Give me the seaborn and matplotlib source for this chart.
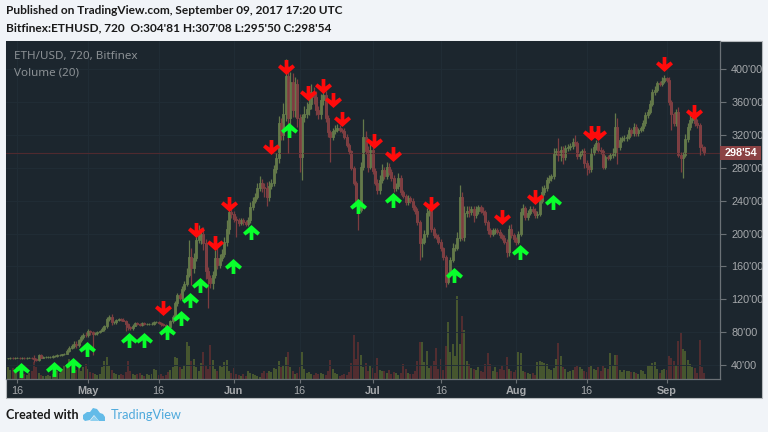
import pandas as pd
import numpy as np
import matplotlib.pyplot as plt
import seaborn as sns
from matplotlib.path import Path
from matplotlib.patches import Rectangle, Polygon

# 12h bars of ETH/USD, first bar is Apr 14 2017
closes = [
    48, 49, 48, 49, 49, 48, 49, 48, 49, 49,
    48, 47, 46, 52, 49, 50, 50, 50, 50, 51,
    51, 52, 52, 53, 54, 57, 61, 63, 66, 64,
    70, 74, 77, 76, 82, 80, 78, 79, 80, 82,
    84, 87, 96, 99, 92, 92, 95, 96, 95, 94,
    90, 86, 85, 88, 91, 90, 89, 91, 90, 90,
    90, 90, 92, 92, 91, 90, 89, 87, 86, 93,
    98, 115, 125, 122, 133, 139, 150, 172, 158, 170,
    192, 197, 200, 188, 155, 146, 140, 150, 170, 162,
    170, 175, 190, 205, 226, 224, 218, 216, 213, 216,
    214, 212, 216, 232, 240, 245, 255, 262, 257, 255,
    245, 258, 262, 278, 292, 335, 320, 345, 392, 340,
    385, 350, 382, 340, 293, 342, 345, 352, 358, 372,
    366, 350, 345, 362, 368, 340, 323, 318, 325, 326,
    328, 326, 325, 318, 308, 300, 280, 262, 240, 229,
    281, 317, 300, 281, 302, 276, 262, 253, 265, 277,
    270, 281, 275, 268, 256, 258, 268, 250, 246, 238,
    243, 240, 232, 228, 214, 188, 190, 200, 225, 228,
    205, 198, 196, 190, 182, 172, 141, 150, 168, 182,
    183, 194, 245, 196, 225, 228, 226, 230, 222, 228,
    232, 228, 226, 214, 204, 200, 204, 204, 202, 198,
    195, 190, 178, 206, 198, 193, 190, 200, 226, 231,
    220, 225, 230, 228, 222, 224, 240, 250, 255, 265,
    268, 270, 298, 300, 296, 302, 293, 304, 305, 306,
    312, 310, 294, 298, 300, 286, 281, 278, 298, 305,
    310, 302, 300, 281, 293, 292, 295, 298, 330, 305,
    314, 316, 316, 318, 326, 322, 330, 322, 326, 328,
    334, 344, 348, 358, 372, 375, 383, 382, 386, 389,
    387, 360, 345, 335, 348, 296, 292, 296, 315, 330,
    338, 340, 335, 332, 305, 304.81, 298.54,
]
upper_wick = [
    1, 1, 1, 1, 1, 1, 1, 1, 1, 1,
    1, 4, 1, 1, 1, 1, 1, 1, 1, 1,
    1, 1, 1, 1, 1, 2, 2, 2, 3, 3,
    2, 2, 2, 3, 2, 1, 2, 1, 2, 1,
    2, 2, 3, 2, 3, 2, 1, 1, 1, 2,
    1, 1, 1, 2, 1, 1, 1, 1, 1, 1,
    1, 2, 1, 1, 1, 1, 1, 1, 1, 2,
    3, 3, 3, 3, 3, 3, 8, 20, 10, 6,
    5, 14, 6, 8, 5, 4, 3, 5, 10, 14,
    5, 6, 6, 12, 10, 6, 4, 3, 3, 3,
    3, 3, 4, 6, 5, 4, 6, 8, 4, 4,
    8, 6, 4, 6, 6, 8, 6, 14, 20, 12,
    12, 10, 8, 6, 5, 3, 10, 8, 8, 10,
    6, 8, 5, 8, 8, 6, 4, 3, 4, 6,
    5, 4, 3, 3, 3, 2, 2, 2, 2, 2,
    6, 22, 8, 6, 10, 5, 4, 4, 6, 8,
    4, 6, 5, 4, 3, 4, 6, 3, 3, 2,
    4, 3, 3, 3, 3, 3, 4, 4, 6, 3,
    3, 3, 3, 3, 3, 2, 2, 3, 4, 6,
    4, 8, 14, 6, 8, 6, 5, 3, 4, 6,
    3, 3, 4, 3, 3, 3, 3, 3, 3, 3,
    3, 3, 3, 4, 6, 3, 3, 3, 5, 5,
    3, 4, 3, 3, 3, 3, 5, 8, 4, 4,
    3, 3, 6, 4, 16, 4, 4, 4, 4, 4,
    4, 8, 3, 3, 3, 4, 3, 3, 6, 4,
    4, 3, 3, 3, 3, 3, 3, 6, 17, 10,
    3, 3, 4, 3, 4, 3, 4, 3, 3, 3,
    4, 4, 3, 4, 4, 4, 3, 3, 4, 4,
    2, 3, 2, 3, 3, 6, 3, 3, 6, 5,
    6, 3, 2, 4, 3, 4, 2.27,
]
lower_wick = [
    1, 1, 1, 1, 1, 1, 1, 1, 1, 1,
    1, 3, 1, 1, 1, 1, 1, 1, 1, 1,
    1, 1, 1, 1, 1, 1, 1, 2, 2, 3,
    2, 2, 2, 2, 2, 3, 26, 2, 2, 1,
    1, 2, 2, 2, 3, 2, 2, 1, 2, 1,
    9, 3, 2, 2, 1, 1, 1, 1, 1, 1,
    1, 1, 1, 1, 1, 2, 2, 3, 2, 2,
    2, 2, 3, 3, 3, 3, 3, 3, 21, 6,
    4, 3, 10, 8, 10, 36, 6, 8, 4, 5,
    4, 4, 4, 5, 6, 5, 4, 20, 4, 3,
    3, 3, 3, 3, 3, 3, 3, 3, 6, 10,
    12, 6, 4, 4, 4, 6, 6, 6, 8, 42,
    8, 8, 8, 10, 18, 28, 6, 5, 8, 6,
    8, 6, 6, 6, 6, 4, 6, 31, 4, 4,
    3, 3, 3, 3, 3, 3, 3, 3, 3, 25,
    3, 4, 3, 6, 3, 4, 3, 5, 5, 4,
    4, 4, 4, 4, 6, 4, 4, 3, 3, 3,
    3, 3, 3, 4, 3, 20, 16, 3, 4, 4,
    3, 3, 3, 3, 3, 4, 6, 3, 3, 3,
    3, 3, 3, 4, 5, 5, 6, 3, 8, 3,
    4, 3, 3, 3, 4, 4, 3, 5, 3, 3,
    3, 3, 6, 5, 3, 3, 4, 3, 3, 3,
    4, 3, 3, 3, 3, 3, 3, 3, 3, 3,
    3, 4, 4, 3, 8, 8, 8, 3, 4, 3,
    3, 4, 3, 3, 3, 6, 10, 4, 3, 3,
    3, 3, 3, 3, 3, 3, 3, 3, 4, 20,
    3, 3, 3, 3, 3, 3, 3, 3, 3, 3,
    3, 3, 3, 3, 3, 3, 3, 3, 3, 3,
    3, 4, 19, 4, 4, 3, 17, 25, 3, 3,
    4, 4, 4, 3, 10, 4, 3.04,
]
volumes = [
    12, 9, 11, 8, 12, 7, 6, 5, 4, 6,
    8, 17, 12, 6, 4, 3, 3, 4, 3, 5,
    4, 8, 6, 10, 14, 15, 20, 18, 10, 9,
    11, 8, 12, 15, 10, 7, 6, 5, 4, 5,
    12, 18, 22, 14, 9, 6, 5, 4, 5, 4,
    7, 18, 8, 5, 4, 5, 6, 4, 3, 5,
    4, 5, 10, 9, 4, 5, 3, 4, 7, 9,
    12, 22, 21, 12, 10, 14, 37, 33, 18, 20,
    12, 8, 16, 27, 14, 10, 34, 19, 10, 8,
    14, 12, 17, 19, 8, 6, 11, 5, 4, 3,
    5, 3, 8, 6, 5, 4, 3, 2, 6, 8,
    6, 8, 7, 11, 10, 18, 12, 14, 22, 27,
    12, 8, 5, 6, 12, 27, 10, 6, 7, 5,
    4, 6, 5, 6, 5, 4, 8, 19, 10, 6,
    5, 3, 4, 5, 4, 7, 16, 44, 20, 37,
    24, 12, 16, 8, 14, 11, 6, 21, 9, 8,
    8, 6, 9, 5, 7, 6, 4, 6, 15, 10,
    6, 5, 5, 8, 18, 37, 37, 17, 28, 11,
    14, 18, 31, 10, 20, 9, 33, 57, 27, 35,
    23, 83, 35, 63, 49, 18, 15, 11, 10, 9,
    12, 8, 7, 15, 26, 15, 8, 12, 7, 10,
    14, 9, 22, 10, 8, 7, 9, 27, 26, 8,
    7, 6, 5, 6, 4, 17, 18, 17, 16, 15,
    10, 9, 11, 20, 36, 23, 12, 10, 7, 8,
    9, 12, 13, 12, 10, 8, 7, 12, 13, 10,
    9, 12, 8, 13, 11, 10, 26, 14, 24, 24,
    9, 7, 9, 8, 8, 7, 7, 6, 5, 9,
    8, 5, 13, 14, 16, 17, 10, 6, 9, 10,
    9, 23, 21, 18, 14, 38, 47, 30, 28, 19,
    15, 12, 11, 6, 39, 12, 6,
]

sell_bar = [66, 80, 88, 94, 112, 118, 127.5, 134, 138, 142, 155.5, 163.5, 180, 210, 224, 248, 251, 279, 291.5]
sell_price = [109, 204, 188, 236, 305, 403, 371, 380, 362, 339, 313, 297, 236, 220, 244, 322, 322, 406, 348]
buy_bar = [5.5, 19.5, 27.5, 33.5, 51.5, 58, 67.5, 73.5, 77.5, 81.5, 95.5, 103.5, 119.5, 149, 163.5, 189.5, 217.5, 231.5]
buy_price = [34, 35, 40, 59, 70, 70, 80, 97, 119, 137, 160, 202, 326, 233, 241, 149, 177, 238]

price_ticks = [40, 80, 120, 160, 200, 240, 280, 320, 360, 400]
date_ticks = [4, 34, 64, 96, 124, 155, 184, 216, 246, 280]
date_labels = ["16", "May", "16", "Jun", "16", "Jul", "16", "Aug", "16", "Sep"]

PANEL = "#1c262e"
GRID = "#212d36"
AXIS = "#6b7176"
LABEL = "#a6a9ac"

sns.set_theme(style="dark")
plt.rcParams["font.family"] = ["Lato", "DejaVu Sans"]

df = pd.DataFrame({"bar": np.arange(len(closes)), "close": closes, "vol": volumes})
df["open"] = df["close"].shift(1).fillna(df["close"])
df["high"] = df[["open", "close"]].max(axis=1) + upper_wick
df["low"] = df[["open", "close"]].min(axis=1) - lower_wick
df["dir"] = np.where(df["close"] >= df["open"], "up", "down")
up = df[df["dir"] == "up"]
down = df[df["dir"] == "down"]

fig = plt.figure(figsize=(7.68, 4.32), dpi=100, facecolor="#f1f4f8")

# full figure axes in pixels, for panel and texts
bg = fig.add_axes([0, 0, 1, 1], zorder=0)
bg.set_xlim(0, 768)
bg.set_ylim(432, 0)
bg.axis("off")
bg.add_patch(Rectangle((6, 41), 756, 357, facecolor=PANEL, edgecolor="#b5b9bd", lw=0.8))

rect = [6 / 768, 53 / 432, 714 / 768, 338 / 432]
xlim = (-0.86, 302.7)
ylim = (23, 434.3)

axv = fig.add_axes(rect, zorder=1, facecolor=PANEL)
sns.barplot(data=df, x="bar", y="vol", hue="dir", hue_order=["up", "down"],
            palette={"up": "#46562f", "down": "#522d30"}, native_scale=True,
            dodge=False, width=0.85, saturation=1, linewidth=0, legend=False, ax=axv)
axv.set_xlim(xlim)
axv.set_ylim(0, 338)
axv.set_yticks([])
axv.set_xticks([])
axv.set_xlabel("")
axv.set_ylabel("")
for s in axv.spines.values():
    s.set_visible(False)

ax = fig.add_axes(rect, zorder=2, facecolor="none")
ax.vlines(up["bar"], up["low"], up["high"], color="#64794a", lw=0.9)
ax.vlines(down["bar"], down["low"], down["high"], color="#7d3d40", lw=0.9)
ax.bar(up["bar"], up["close"] - up["open"], bottom=up["open"], width=0.85,
       color="#465837", edgecolor="#677e4c", lw=0.6)
ax.bar(down["bar"], down["close"] - down["open"], bottom=down["open"], width=0.85,
       color="#884346", edgecolor="#884346", lw=0.6)
ax.axhline(closes[-1], color="#4f2a2f", lw=0.8, zorder=1)

# chunky signal arrows
arrow_down = Path([(-0.22, 0.88), (0.22, 0.88), (0.22, 0.0), (0.72, 0.36), (1, 0.02), (0, -0.88),
                   (-1, 0.02), (-0.72, 0.36), (-0.22, 0.0), (-0.22, 0.88)], closed=True)
arrow_up = Path(arrow_down.vertices * [1, -1], closed=True)
sns.scatterplot(x=sell_bar, y=sell_price, marker=arrow_down, color="#ff0b0b", s=150,
                linewidth=0, ax=ax, zorder=5, clip_on=False)
sns.scatterplot(x=buy_bar, y=buy_price, marker=arrow_up, color="#09ff2c", s=150,
                linewidth=0, ax=ax, zorder=5, clip_on=False)

ax.set_xlim(xlim)
ax.set_ylim(ylim)
ax.yaxis.tick_right()
ax.set_yticks(price_ticks)
ax.set_yticklabels([f"{p}'00" for p in price_ticks], family="Liberation Sans")
ax.set_xticks(date_ticks)
ax.set_xticklabels(date_labels, family="Liberation Sans")
for lab, txt in zip(ax.get_xticklabels(), date_labels):
    if not txt.isdigit():
        lab.set_fontweight("bold")
ax.tick_params(axis="y", colors=AXIS, labelcolor=LABEL, labelsize=7.8, length=4, width=0.8, pad=4, right=True)
ax.tick_params(axis="x", colors=AXIS, labelcolor=LABEL, labelsize=7.8, length=3, width=0.8, pad=2, bottom=True)
ax.grid(True, color=GRID, lw=0.7)
ax.set_axisbelow(True)
ax.set_xlabel("")
ax.set_ylabel("")
for side in ["top", "left"]:
    ax.spines[side].set_visible(False)
for side in ["right", "bottom"]:
    ax.spines[side].set_color(AXIS)
    ax.spines[side].set_linewidth(0.9)

# overlay for last price tag and legend texts
top = fig.add_axes([0, 0, 1, 1], zorder=6, facecolor="none")
top.set_xlim(0, 768)
top.set_ylim(432, 0)
top.axis("off")
top.add_patch(Rectangle((720, 146), 41, 14, facecolor="#8b4244", edgecolor="none"))
top.text(741, 153, "298'54", color="white", fontsize=7.8, fontweight="bold",
         family="Liberation Sans", ha="center", va="center")
top.text(14, 57, "ETH/USD, 720, Bitfinex", color="#8b9094", fontsize=8.4, fontweight="medium",
         family="Noto Sans", va="center")
top.text(14, 73, "Volume (20)", color="#8b9094", fontsize=8.4, fontweight="medium",
         family="Noto Sans", va="center")

top.text(6, 11, "Published on TradingView.com, September 09, 2017 17:20 UTC",
         color="#1a1a1a", fontsize=8.6, fontweight="bold", va="center")
top.text(6, 28, "Bitfinex:ETHUSD, 720  O:304'81 H:307'08 L:295'50 C:298'54",
         color="#1a1a1a", fontsize=8.6, fontweight="bold", va="center")
top.text(6, 415, "Created with", color="#1a1a1a", fontsize=9, fontweight="bold", va="center")
top.text(111, 415, "TradingView", color="#4ea9dc", fontsize=9.2, va="center")

# TradingView cloud logo
top.add_patch(Polygon([(83, 419), (83, 415), (87, 412), (90, 412), (93, 408), (97, 409), (100, 413),
                       (103, 414), (105, 417), (105, 421), (99, 421), (94, 415), (90, 420), (85, 421)],
                      closed=True, facecolor="#63bbe8", edgecolor="none"))
top.add_patch(Polygon([(90, 421), (94, 416), (99, 421)], closed=True, facecolor="#8fd0ef", edgecolor="none"))

fig.savefig("out.png", dpi=100, facecolor=fig.get_facecolor())
